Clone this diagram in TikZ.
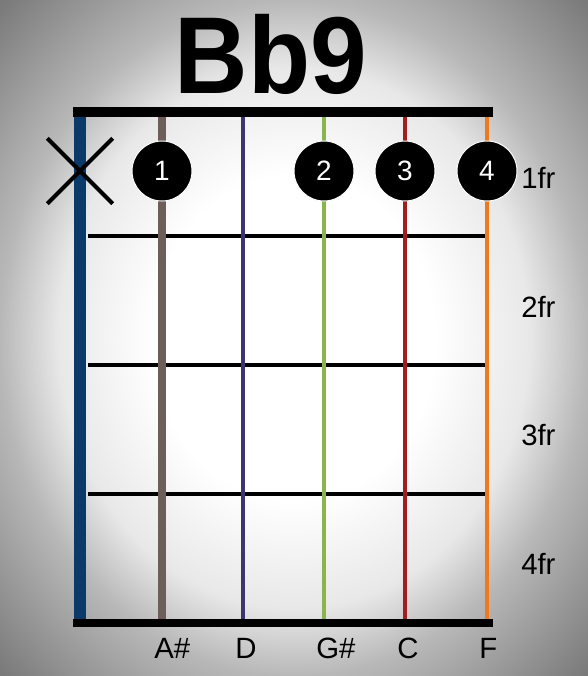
\documentclass[tikz,border=0pt]{standalone}
\usepackage{fontspec}
\setmainfont{Liberation Sans}
\usetikzlibrary{positioning,shapes.misc}
\usepackage{xcolor}

\definecolor{strE}{HTML}{0B3A6A}
\definecolor{strA}{HTML}{6E5E5A}
\definecolor{strD}{HTML}{3E3470}
\definecolor{strG}{HTML}{8AB54E}
\definecolor{strB}{HTML}{A01E1E}
\definecolor{strHi}{HTML}{EE7A1E}
\pgfdeclareradialshading{vignette}{\pgfpoint{0bp}{0bp}}{color(0bp)=(white); color(12bp)=(white); color(20bp)=(black!9); color(25bp)=(black!28); color(35bp)=(black!52); color(50bp)=(black!58)}

\begin{document}
\begin{tikzpicture}[x=0.75pt, y=-0.75pt, every node/.style={font=\fontsize{22}{24}\selectfont}]
\tikzset{dot/.style={circle, fill=black, draw=white, line width=0.75pt, minimum size=45pt, inner sep=0pt, text=white, font=\fontsize{21}{22}\selectfont}}
\tikzset{fret/.style={line width=3.2pt}}
\tikzset{bar/.style={line width=7pt}}
\tikzset{fretlabel/.style={anchor=base west, inner sep=0pt}}
\tikzset{notelabel/.style={anchor=base west, inner sep=0pt}}
\useasboundingbox (0,0) rectangle (588,676);
\shade[shading=vignette] (0,0) rectangle (588,676);
% title
\node[anchor=base, inner sep=0pt, font=\bfseries\fontsize{82}{84}\selectfont] (title) at (271,93) {\scalebox{0.93}[1]{Bb9}};
% frets
\foreach \y [count=\i] in {236,365,494} {
  \coordinate (f\i l) at (88,\y);
  \coordinate (f\i r) at (487,\y);
  \draw[fret] (f\i l) -- (f\i r);
}
% strings
\foreach \x/\c/\w [count=\i] in {80/strE/8.5, 162/strA/6.5, 243/strD/2.3, 324/strG/2.3, 405/strB/2.7, 487/strHi/3.5} {
  \coordinate (s\i t) at (\x,117);
  \coordinate (s\i b) at (\x,620);
  \draw[\c, line width=\w pt] (s\i t) -- (s\i b);
}
% nut and end bar
\coordinate (nutL) at (73,112);
\coordinate (nutR) at (493,112);
\coordinate (endL) at (73,623);
\coordinate (endR) at (493,623);
\draw[bar] (nutL) -- (nutR);
\draw[bar, line width=5.5pt] (endL) -- (endR);
% muted string
\node[cross out, draw, line width=3pt, minimum size=46pt, inner sep=0pt] (mute) at (80,171) {};
% fingers
\node[dot] (d1) at (162,171) {1};
\node[dot] (d2) at (324,171) {2};
\node[dot] (d3) at (405,171) {3};
\node[dot] (d4) at (487,171) {4};
% fret numbers
\node[fretlabel] (fr1) at (521,188.5) {1fr};
\node[fretlabel] (fr2) at (521,317.5) {2fr};
\node[fretlabel] (fr3) at (521,445.5) {3fr};
\node[fretlabel] (fr4) at (521,574) {4fr};
% notes
\node[notelabel] (n2) at (154,658) {A\#};
\node[notelabel] (n3) at (235,658) {D};
\node[notelabel] (n4) at (316,658) {G\#};
\node[notelabel] (n5) at (397,658) {C};
\node[notelabel] (n6) at (479,658) {F};
\end{tikzpicture}
\end{document}
